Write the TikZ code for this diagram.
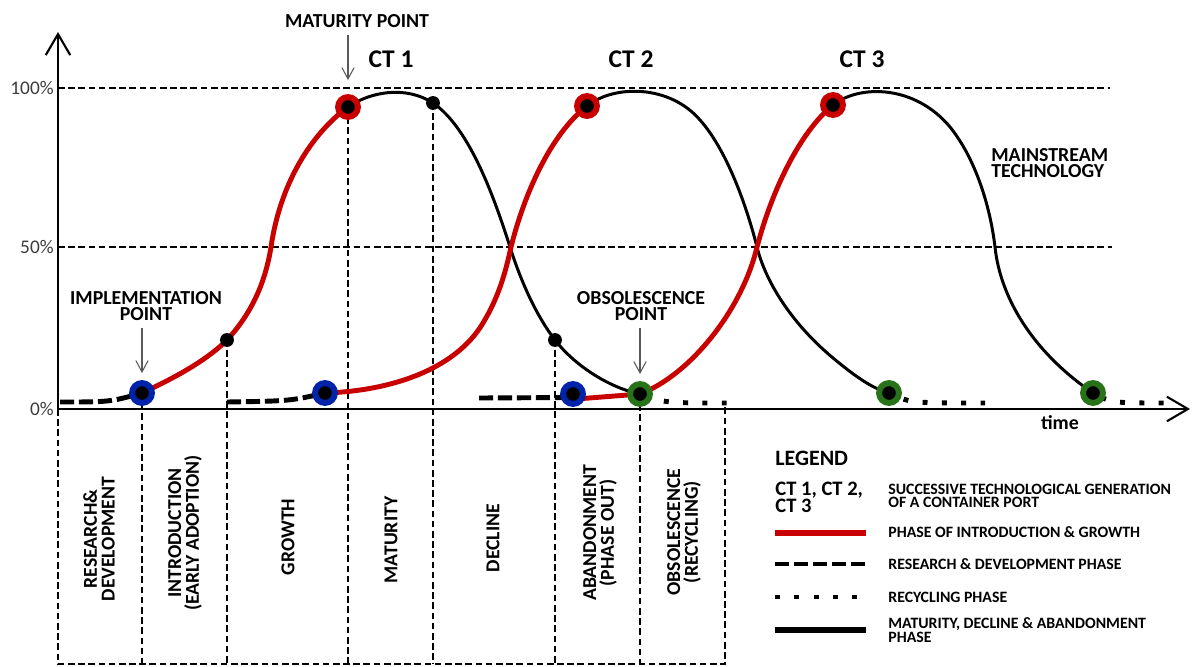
\documentclass[tikz,border=0pt]{standalone}
\usepackage{fontspec}
\setmainfont{Carlito}
\usepackage{tikz}
\usetikzlibrary{calc}
\usetikzlibrary{arrows.meta}
\usetikzlibrary{positioning}
\usetikzlibrary{backgrounds}
\definecolor{lifered}{RGB}{200, 0, 0}
\definecolor{rdblue}{RGB}{0, 35, 170}
\definecolor{recgreen}{RGB}{40, 115, 25}
\definecolor{axisgray}{RGB}{60, 60, 60}
\newcommand{\tightlines}{\lineskiplimit -20pt\lineskip 0pt\relax}

\tikzset{
  guide/.style={black, line width=0.8pt, dash pattern=on 3.8pt off 2pt},
  axisline/.style={black, line width=1.2pt, -{Straight Barb[length=12pt,width=14pt]}},
  growth/.style={lifered, line width=2.8pt},
  decline/.style={black, line width=1.7pt},
  rdphase/.style={black, line width=2.8pt, dash pattern=on 8pt off 2.8pt},
  recphase/.style={black, line width=2.8pt, dash pattern=on 2.8pt off 8.2pt},
  pointer/.style={black!65, line width=0.6pt, -{Straight Barb[length=6.5pt,width=7pt]}},
  implpt/.style={circle, draw=rdblue, fill=black, line width=3.4pt, minimum size=11.3pt, inner sep=0pt},
  matpt/.style={implpt, draw=lifered},
  obspt/.style={implpt, draw=recgreen},
  phasept/.style={circle, fill=black, minimum size=7.9pt, inner sep=0pt},
  lbl/.style={font=\bfseries\fontsize{11.3}{9.6}\selectfont, align=center, inner sep=0pt},
  ctlbl/.style={font=\bfseries\fontsize{14.5}{16}\selectfont, inner sep=0pt},
  phaselbl/.style={font=\bfseries\fontsize{11.2}{10.2}\selectfont, align=center, rotate=90, inner sep=0pt},
  pct/.style={font=\fontsize{11}{12}\selectfont, text=axisgray, anchor=east, inner sep=0pt},
  legtxt/.style={font=\bfseries\fontsize{9}{7.8}\selectfont\tightlines, align=left, anchor=west, inner sep=0pt},
}

\begin{document}
\begin{tikzpicture}[x=0.02cm, y=-0.02cm]
    \useasboundingbox (0,0) rectangle (1192,666);
    % Phase points
    \node[implpt]   (imp1) at ( 142, 393) {};
    \node[implpt]   (imp2) at ( 325, 393) {};
    \node[implpt]   (imp3) at ( 573, 394) {};
    \node[matpt]    (mat1) at ( 348, 107) {};
    \node[matpt]    (mat2) at ( 587, 106) {};
    \node[matpt]    (mat3) at ( 833, 105) {};
    \node[obspt]    (obs1) at ( 640, 394) {};
    \node[obspt]    (obs2) at ( 889, 393) {};
    \node[obspt]    (obs3) at (1093, 393) {};
    \node[phasept]  (grw1) at ( 227, 340) {};
    \node[phasept]  (dec1) at ( 433, 103) {};
    \node[phasept]  (aba1) at ( 555, 340) {};

    \begin{scope}[on background layer]
        % Reference grid
        \coordinate (base) at (58,664);
        \draw[guide] (  58,  88) -- (1110,  88);
        \draw[guide] (  58, 247) -- (1112, 247);
        \draw[guide] (  58, 409) -- (base) -- (725, 664) -- (725, 403);
        \draw[guide] (imp1.center) -- (imp1 |- base);
        \draw[guide] (grw1.center) -- (grw1 |- base);
        \draw[guide] (mat1.center) -- (mat1 |- base);
        \draw[guide] (dec1.center) -- (dec1 |- base);
        \draw[guide] (aba1.center) -- (aba1 |- base);
        \draw[guide] (obs1.center) -- (obs1 |- base);
        % Research & development
        \draw[rdphase] (  60, 402) .. controls (110, 402) .. (imp1.center);
        \draw[rdphase] ( 227, 402) .. controls (290, 401) .. (imp2.center);
        \draw[rdphase] ( 479, 398) -- ([yshift=-2pt]imp3.center);
        % Recycling
        \draw[recphase, dash phase=7.8pt] (obs1.center) .. controls ( 665, 403) .. ( 728, 403);
        \draw[recphase, dash phase=2pt]   (obs2.center) .. controls ( 910, 403) .. ( 985, 403);
        \draw[recphase, dash phase=5.6pt] (obs3.center) .. controls (1112, 403) .. (1165, 403);
        % CT 1
        \draw[growth]  (imp1.center) .. controls (170, 380) and (205, 362) .. (grw1.center)
                                     .. controls (250, 315) and (265, 285) .. (271, 247)
                                     .. controls (280, 185) and (310, 135) .. (mat1.center);
        \draw[decline] (mat1.center) .. controls (370,  92) and (405,  85) .. (dec1.center)
                                     .. controls (470, 128) and (495, 200) .. (510, 247)
                                     .. controls (522, 285) and (538, 318) .. (aba1.center)
                                     .. controls (575, 366) and (610, 388) .. (obs1.center);
        % CT 2
        \draw[growth]  (imp2.center) .. controls (390, 391) and (455, 370) .. (483, 323)
                                     .. controls (498, 298) and (505, 275) .. (511, 247)
                                     .. controls (524, 195) and (550, 135) .. (mat2.center);
        \draw[decline] (mat2.center) .. controls (615,  84) and (670,  85) .. (700, 120)
                                     .. controls (725, 148) and (745, 200) .. (757, 247)
                                     .. controls (765, 280) and (790, 322) .. (833, 358)
                                     .. controls (850, 372) and (870, 388) .. (obs2.center);
        % CT 3
        \draw[growth]  ([yshift=-3pt]imp3.center) -- (obs1.center)
                                     .. controls (690, 375) and (742, 310) .. (757, 247)
                                     .. controls (772, 190) and (800, 132) .. (mat3.center);
        \draw[decline] (mat3.center) .. controls (860,  84) and (915,  85) .. (950, 127)
                                     .. controls (975, 158) and (990, 205) .. (995, 247)
                                     .. controls (1000, 295) and (1030, 350) .. (obs3.center);
    \end{scope}

    % Axes
    \coordinate (origin) at (58, 409);
    \coordinate (xend)   at (1190, 409);
    \coordinate (yend)   at (58, 32);
    \draw[axisline] (origin) -- (xend);
    \draw[axisline] (origin) -- (yend);
    \node[pct] (p100) at (54,  88) {100\%};
    \node[pct] (p50)  at (54, 247) {50\%};
    \node[pct] (p0)   at (54, 409) {0\%};
    \node[lbl] (timelbl) at (1060, 423) {time};

    % Curve labels
    \node[ctlbl] (ct1) at (391, 59) {CT 1};
    \node[ctlbl] (ct2) at (631, 59) {CT 2};
    \node[ctlbl] (ct3) at (862, 59) {CT 3};
    \node[lbl, align=left, anchor=west] (mainlbl) at (991, 163) {MAINSTREAM\\TECHNOLOGY};

    % Points of interest
    \node[lbl] (matlbl) at (357,  21) {MATURITY POINT};
    \node[lbl] (impllbl) at (146, 306) {IMPLEMENTATION\\POINT};
    \node[lbl] (obslbl)  at (641, 306) {OBSOLESCENCE\\POINT};
    \draw[pointer] ([yshift=-4.3pt]matlbl.south -| mat1)  -- ([yshift=8pt]mat1.north);
    \draw[pointer] ([yshift=-3.7pt]impllbl.south -| imp1) -- ([yshift=4pt]imp1.north);
    \draw[pointer] ([yshift=-3.7pt]obslbl.south -| obs1)  -- ([yshift=4pt]obs1.north);

    % Phases
    \node[phaselbl] (rdlbl)   at ( 99, 539) {RESEARCH\&\\DEVELOPMENT};
    \node[phaselbl] (introlbl) at (185, 533) {INTRODUCTION\\(EARLY ADOPTION)};
    \node[phaselbl] (growlbl) at (288, 537) {GROWTH};
    \node[phaselbl] (maturlbl) at (391, 540) {MATURITY};
    \node[phaselbl] (declbl)  at (493, 538) {DECLINE};
    \node[phaselbl] (abanlbl) at (600, 533) {ABANDONMENT\\(PHASE OUT)};
    \node[phaselbl] (obsollbl) at (684, 532) {OBSOLESCENCE\\(RECYCLING)};

    % Legend
    \node[lbl, font=\bfseries\fontsize{12.5}{14}\selectfont, anchor=west] (legend) at (775, 458) {LEGEND};
    \node[legtxt, font=\bfseries\fontsize{11.7}{9.6}\selectfont\tightlines] (ctkey) at (775, 497) {CT 1, CT 2,\\CT 3};
    \node[legtxt] (ctdesc) at (888, 496) {SUCCESSIVE TECHNOLOGICAL GENERATION\\OF A CONTAINER PORT};
    \coordinate (kgrowth) at (775, 533);
    \coordinate (krd)     at (775, 564);
    \coordinate (krec)    at (775, 597);
    \coordinate (kdecl)   at (775, 630);
    \draw[growth, line width=3.2pt]  (kgrowth) -- ++(91, 0);
    \draw[rdphase]                   (krd)     -- ++(91, 0);
    \draw[recphase]                  (krec)    -- ++(91, 0);
    \draw[decline, line width=3pt]   (kdecl)   -- ++(91, 0);
    \node[legtxt] (growdesc) at (888, 532) {PHASE OF INTRODUCTION \& GROWTH};
    \node[legtxt] (rddesc)   at (888, 564) {RESEARCH \& DEVELOPMENT PHASE};
    \node[legtxt] (recdesc)  at (888, 597) {RECYCLING PHASE};
    \node[legtxt] (decdesc)  at (888, 630) {MATURITY, DECLINE \& ABANDONMENT\\PHASE};
\end{tikzpicture}
\end{document}
